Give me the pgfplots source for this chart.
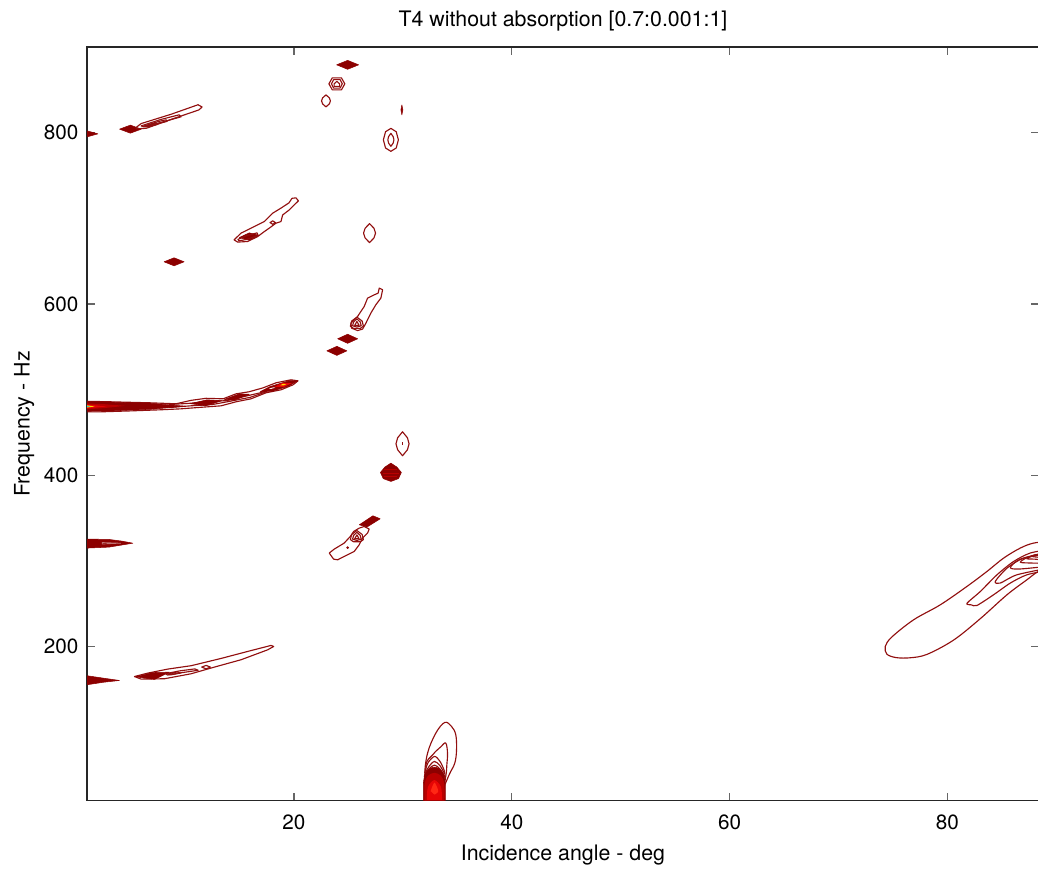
\documentclass[border=0pt]{standalone}
\usepackage{fontspec}
\setmainfont{TeX Gyre Heros}
\usepackage{pgfplots}
\pgfplotsset{compat=1.18}
\definecolor{dkred}{RGB}{140,0,0}
\definecolor{cl}{RGB}{145,15,15}
\definecolor{mred}{RGB}{185,0,0}
\definecolor{bred}{RGB}{230,5,5}
\definecolor{hred}{RGB}{255,40,20}
\definecolor{yel}{RGB}{255,215,0}
\definecolor{cyn}{RGB}{40,200,200}
\tikzset{cont/.style={draw=cl,line width=0.85pt,line join=round},
         fd/.style={fill=dkred,draw=dkred,line width=0.4pt,line join=round},
         fc/.style={fill=#1,draw=none}}
\begin{document}
\begin{tikzpicture}
\begin{axis}[name=ax, at={(0,0)}, anchor=south west,
  scale only axis, width=713.25pt, height=564.75pt,
  xmin=1, xmax=88.4, ymin=20, ymax=900,
  xtick={20,40,60,80}, ytick={200,400,600,800},
  tick align=inside, major tick length=6pt,
  axis line style={line width=1.1pt, color=black!85},
  tick style={line width=0.9pt, color=black!60},
  /pgf/number format/assume math mode=true,
  tick label style={font=\fontsize{15.5}{18}\selectfont, color=black},
  xticklabel style={yshift=-7pt},
  yticklabel style={xshift=-3pt},
  title={T4 without absorption [0.7:0.001:1]},
  xlabel={Incidence angle - deg},
  ylabel={Frequency - Hz},
  every axis title/.style={at={(axis description cs:0.5,1.0345)},anchor=center,font=\fontsize{16}{19}\selectfont},
  every axis x label/.style={at={(axis description cs:0.5,-0.0726)},anchor=center,font=\fontsize{16}{19}\selectfont},
  every axis y label/.style={at={(axis description cs:-0.066,0.5)},rotate=90,anchor=center,font=\fontsize{16}{19}\selectfont},
  no markers, clip=true]

% ---------- ~880 Hz region ----------
\addplot[fd] coordinates {(23.92,879.2) (24.93,884.4) (25.94,879.2) (24.93,874.0)} -- cycle;
\addplot[cont] coordinates {(23.21,857.0) (23.52,864.0) (24.36,864.0) (24.67,857.0) (24.36,850.0) (23.52,850.0)} -- cycle;
\addplot[cont] coordinates {(23.44,857) (23.65,862) (24.23,862) (24.44,857) (24.23,852) (23.65,852)} -- cycle;
\addplot[cont] coordinates {(23.69,854) (23.69,857) (23.94,860) (24.19,857) (24.19,854)} -- cycle;
\addplot[cont] coordinates {(22.94,844.1) (23.25,840.6) (23.35,837.1) (23.25,833.6) (22.94,830.1) (22.63,833.6) (22.53,837.1) (22.63,840.6)} -- cycle;
\addplot[fd] coordinates {(29.91,832.4) (30.0,826.6) (29.91,820.8) (29.82,826.6)} -- cycle;
\addplot[cont] coordinates {(28.9,805.0) (29.39,801.1) (29.59,791.6) (29.39,782.1) (28.9,778.2) (28.41,782.1) (28.21,791.6) (28.41,801.1)} -- cycle;
\addplot[cont] coordinates {(28.9,799.2) (29.11,795.4) (29.18,791.6) (29.11,787.8) (28.9,784.0) (28.69,787.8) (28.62,791.6) (28.69,795.4)} -- cycle;

% ---------- 800 Hz streak ----------
\addplot[fd] coordinates {(0,798.6) (1,802.1) (2.0,798.6) (1,795.1)} -- cycle;
\addplot[fd] coordinates {(3.98,804.1) (4.98,808.8) (5.98,804.1) (4.98,799.4)} -- cycle;
\addplot[cont] coordinates {(5.50,806.0) (5.96,810.6) (8.72,821.5) (11.19,832.6) (11.56,830.0) (11.28,826.6) (8.72,815.5) (6.42,805.0) (5.50,804.6)} -- cycle;
\addplot[cont] coordinates {(5.96,807.9) (7.80,815.5) (9.45,820.8) (9.63,818.5) (7.98,812.6) (6.24,806.7)} -- cycle;
\addplot[cont] coordinates {(6.24,807.9) (7.61,813.2) (8.26,815.0) (8.35,813.2) (7.61,810.9) (6.42,806.7)} -- cycle;
\addplot[cont] coordinates {(6.4,807.8) (7.3,811.5) (7.5,809.8) (6.6,806.9)} -- cycle;

% ---------- 680 Hz streak ----------
\addplot[fd] coordinates {(14.98,677.5) (15.9,683.0) (16.82,680.0) (15.9,674.4)} -- cycle;
\addplot[cont] coordinates {(14.50,674.8) (15.14,682.7) (16.36,690.4) (17.28,696.2) (18.05,706.0) (18.81,711.9) (19.54,718.0) (19.82,723.3) (20.18,723.9) (20.41,720.4) (20.03,715.7) (19.57,709.8) (18.96,703.9) (18.81,696.2) (18.35,694.3) (17.73,688.5) (17.28,684.5) (16.67,678.7) (15.75,672.9) (14.83,672.2)} -- cycle;
\addplot[cont] coordinates {(14.86,675.4) (15.6,679.5) (16.61,683.0) (16.70,680.1) (15.69,675.4) (14.95,673.7)} -- cycle;
\addplot[cont] coordinates {(17.8,695.0) (18.05,697.0) (18.3,695.0) (18.05,693.0)} -- cycle;
\addplot[fd] coordinates {(8.07,649.2) (8.99,653.9) (9.91,649.2) (8.99,644.5)} -- cycle;
\addplot[cont] coordinates {(26.94,693.8) (27.35,688.3) (27.49,682.7) (27.35,677.1) (26.94,671.6) (26.53,677.1) (26.39,682.7) (26.53,688.3)} -- cycle;

% ---------- 580-615 Hz streak ----------
\addplot[cont] coordinates {(25.23,577.6) (25.84,585.3) (26.45,597.0) (26.76,606.8) (27.37,610.6) (27.73,612.6) (27.83,618.5) (28.14,616.5) (27.98,606.8) (27.52,599.0) (27.06,589.3) (26.61,577.6) (26.30,570.6) (25.84,568.9) (25.29,571.7)} -- cycle;
\addplot[cont] coordinates {(25.18,574) (25.3,580) (25.78,584.6) (26.26,580) (26.38,574) (26.1,571.5) (25.46,571.5)} -- cycle;
\addplot[cont] coordinates {(25.38,574.5) (25.48,579) (25.78,582.5) (26.08,579) (26.18,574.5) (25.78,573)} -- cycle;
\addplot[cont] coordinates {(25.58,575) (25.78,579.5) (25.98,575)} -- cycle;
\addplot[fd] coordinates {(24.01,559.3) (24.93,564.6) (25.85,559.3) (24.93,554.0)} -- cycle;
\addplot[fd] coordinates {(23.02,545.2) (23.94,550.5) (24.86,545.2) (23.94,539.9)} -- cycle;

% ---------- 480 Hz streak ----------
\addplot[cont] coordinates {(1,486.3) (3.21,485.7) (6.88,484.5) (9.17,483.4) (10.55,487.4) (11.93,489.8) (13.49,489.2) (14.68,495.0) (15.87,497.4) (17.16,502.0) (18.35,507.9) (19.72,511.4) (20.37,510.2) (19.91,505.5) (18.81,499.7) (17.43,496.2) (16.06,489.2) (14.68,485.7) (13.30,481.0) (11.47,479.3) (9.63,477.5) (7.80,476.4) (5.05,475.1) (2.29,474.0) (1,474.0)};
\addplot[cont] coordinates {(8.5,482.5) (10.5,484.0) (12.0,486.2) (13.8,487.0) (15.3,491.5) (17.0,496.5) (18.5,502.5)};
\addplot[cont] coordinates {(8.5,479.0) (10.5,481.0) (12.5,482.5) (14.2,486.5) (16.0,491.0) (17.5,497.5)};
\addplot[fd] coordinates {(1,485.8) (3.2,485.3) (6.9,484.0) (8.5,482.2) (10.0,480.6) (8.5,478.8) (6.9,477.0) (3.2,475.1) (1,474.6)} -- cycle;
\addplot[fd] coordinates {(10.5,483.5) (12.0,488.0) (13.4,487.0) (11.9,481.0)} -- cycle;
\addplot[fd] coordinates {(13.6,488.5) (15.0,495.0) (15.9,494.5) (14.5,487.5)} -- cycle;
\addplot[fd] coordinates {(16.9,497.5) (17.8,503.5) (19.6,510.5) (20.3,510.0) (19.5,504.0) (18.0,498.0)} -- cycle;
\addplot[fc=bred] coordinates {(18.2,503.0) (18.9,507.8) (19.8,507.5) (19.1,503.2)} -- cycle;
\addplot[fc=yel] coordinates {(18.75,505.0) (19.0,506.8) (19.3,506.3) (19.05,504.8)} -- cycle;
\addplot[fc=white] coordinates {(17.7,501.0) (18.1,502.6) (18.3,502.2) (17.9,500.8)} -- cycle;
\addplot[fc=mred] coordinates {(1,483.8) (2.5,483.0) (4.5,481.0) (2.5,478.3) (1,477.0)} -- cycle;
\addplot[fc=bred] coordinates {(1,482.5) (1.8,481.6) (2.8,480.3) (1.8,479.0) (1,478.0)} -- cycle;
\addplot[fc=yel] coordinates {(1,481.6) (1.7,480.3) (1,479.0)} -- cycle;
\addplot[fc=cyn] coordinates {(1,480.9) (1.3,480.3) (1,479.7)} -- cycle;

% ---------- 400-440 Hz ----------
\addplot[cont] coordinates {(29.97,450.7) (30.42,443.7) (30.57,436.7) (30.42,429.7) (29.97,422.7) (29.52,429.7) (29.37,436.7) (29.52,443.7)} -- cycle;
\addplot[cont] coordinates {(29.97,435.0) (29.97,438.5)};
\addplot[fd] coordinates {(27.94,403.2) (28.35,409.5) (28.9,414.1) (29.45,409.5) (29.86,403.2) (29.6,396.0) (28.9,392.7) (28.2,396.0)} -- cycle;
\addplot[draw=mred,line width=0.35pt] coordinates {(28.3,398.5) (29.5,398.5)};
\addplot[draw=mred,line width=0.35pt] coordinates {(28.15,402.5) (29.65,402.5)};
\addplot[draw=mred,line width=0.35pt] coordinates {(28.3,406.5) (29.5,406.5)};

% ---------- 300-350 Hz ----------
\addplot[fd] coordinates {(1,325.4) (3.0,325.0) (4.2,323.0) (5.2,320.6) (4.2,318.5) (3.0,316.0) (1,314.9)} -- cycle;
\addplot[draw=white!45!dkred,line width=0.5pt] coordinates {(2.4,321.4) (4.1,320.6) (2.4,319.6)} -- cycle;
\addplot[fd] coordinates {(26.0,342.1) (27.25,352.6) (27.92,349.1) (26.7,339.4)} -- cycle;
\addplot[cont] coordinates {(23.24,309.1) (23.70,313.7) (24.61,320.7) (25.17,328.4) (25.48,334.3) (25.99,338.2) (26.45,340.1) (26.91,337.1) (26.76,332.4) (26.30,326.6) (25.99,318.7) (25.53,310.9) (24.93,307.1) (24.01,301.2) (23.64,302.0)} -- cycle;
\addplot[cont] coordinates {(25.18,324.8) (25.3,330.8) (25.78,335.4) (26.26,330.8) (26.38,324.8) (26.1,322.3) (25.46,322.3)} -- cycle;
\addplot[cont] coordinates {(25.38,325.3) (25.48,329.8) (25.78,333.3) (26.08,329.8) (26.18,325.3) (25.78,323.8)} -- cycle;
\addplot[cont] coordinates {(25.58,325.8) (25.78,330.3) (25.98,325.8)} -- cycle;
\addplot[fd] coordinates {(24.83,315.4) (24.93,316.6) (25.03,315.4) (24.93,314.2)} -- cycle;

% ---------- 160-200 Hz streak ----------
\addplot[fd] coordinates {(1,165.8) (2.5,163.0) (3.97,160.3) (2.5,158.2) (1,155.3)} -- cycle;
\addplot[cont] coordinates {(5.35,164.9) (6.58,168.9) (8.41,173.6) (10.55,177.5) (13.30,186.0) (15.75,194.2) (17.89,201.2) (18.14,200.0) (17.59,196.1) (15.14,184.5) (12.69,175.9) (10.55,168.1) (8.10,162.3) (5.96,161.9)} -- cycle;
\addplot[fd] coordinates {(5.5,164.5) (7.0,169.5) (8.56,170.0) (7.2,161.5)} -- cycle;
\addplot[cont] coordinates {(8.2,168.2) (9.5,171.5) (10.9,173.8) (11.2,172.2) (9.6,169.2) (8.4,166.6)} -- cycle;
\addplot[cont] coordinates {(8.4,167.8) (9.3,170.3) (9.6,169.0) (8.7,166.9)} -- cycle;
\addplot[cont] coordinates {(11.53,175.9) (11.93,177.9) (12.33,175.9) (11.93,173.9)} -- cycle;

% ---------- bottom blob at 33 deg ----------
\addplot[cont,smooth,tension=0.6] coordinates {(32.4,20) (32.02,48.2) (32.27,75.5) (33.03,98.9) (33.85,111.3) (34.47,106.6) (34.86,96.9) (34.93,79.4) (34.77,63.9) (34.25,50.2) (33.6,30) (33.4,20)};
\addplot[cont,smooth,tension=0.6] coordinates {(32.5,20) (32.11,59.9) (32.75,73.6) (33.49,82.9) (33.94,87.2) (34.10,75.5) (34.04,61.9) (33.94,48.2) (33.5,20)};
\addplot[cont,smooth] coordinates {(32.0,52) (32.3,64) (32.9,71.6) (33.4,66) (33.8,55) (33.9,45)};
\addplot[cont,smooth] coordinates {(32.0,50) (32.4,60) (32.9,65.7) (33.4,61) (33.8,52)};
\addplot[cont,smooth] coordinates {(31.95,48) (32.4,57) (32.9,61.5) (33.4,57) (33.85,48)};
\addplot[fd,smooth] coordinates {(31.88,20) (31.9,42) (32.1,52) (32.5,57.5) (32.9,59) (33.3,57.5) (33.7,52) (33.88,42) (33.9,20)} -- cycle;
\addplot[fc=mred,smooth] coordinates {(31.97,20) (32.0,40) (32.3,49) (32.9,52.5) (33.5,49) (33.8,40) (33.82,20)} -- cycle;
\addplot[fc=bred,smooth] coordinates {(32.2,21) (32.3,36) (32.9,44) (33.5,36) (33.6,21)} -- cycle;
\addplot[fc=hred,smooth] coordinates {(32.55,31) (32.9,41) (33.25,31) (32.9,27)} -- cycle;

% ---------- big right feature ----------
\addplot[cont,smooth,tension=0.55] coordinates {(89.5,323) (87.92,320.7) (86.7,314.9) (85.17,303.2) (83.64,287.6) (81.8,270.1) (79.36,248.7) (76.91,231.2) (74.9,211.0) (74.3,200.0) (74.45,191.0) (75.3,187.0) (76.6,186.8) (78.14,190.8) (80.58,207.5) (83.03,232.5) (85.48,260.4) (87.31,277.9) (88.35,287.6) (89.5,293)};
\addplot[cont,smooth,tension=0.45] coordinates {(89.5,313.5) (87.61,309.1) (86.08,299.2) (84.56,283.7) (83.03,264.2) (81.8,250.4) (82.2,248.6) (82.72,247.9) (84.25,260.4) (85.78,274.0) (87.31,283.7) (89.5,289.6)};
\addplot[cont,smooth,tension=0.45] coordinates {(89.5,311) (87.0,303.2) (85.48,291.5) (84.4,275.9) (84.86,274.0) (86.39,283.7) (89.5,292)};
\addplot[cont,smooth,tension=0.45] coordinates {(89.5,309.5) (86.7,302.0) (85.78,291.9) (86.7,290.5) (89.5,294)};
\addplot[cont,smooth,tension=0.45] coordinates {(89.5,308.5) (87.5,304.5) (86.7,298.5) (87.5,297.5) (89.5,297)};
\addplot[cont,smooth,tension=0.45] coordinates {(89.5,308) (88.0,306.5) (87.3,302.5) (88.0,302) (89.5,300)};
\addplot[cont,smooth,tension=0.45] coordinates {(89.5,307.5) (88.3,307.5) (87.8,305) (89.5,303)};
\end{axis}
\pgfresetboundingbox
\path[use as bounding box] ([shift={(-65.25pt,-53.25pt)}]ax.south west) rectangle ([shift={(-0.6pt,35.25pt)}]ax.north east);
\end{tikzpicture}
\end{document}
